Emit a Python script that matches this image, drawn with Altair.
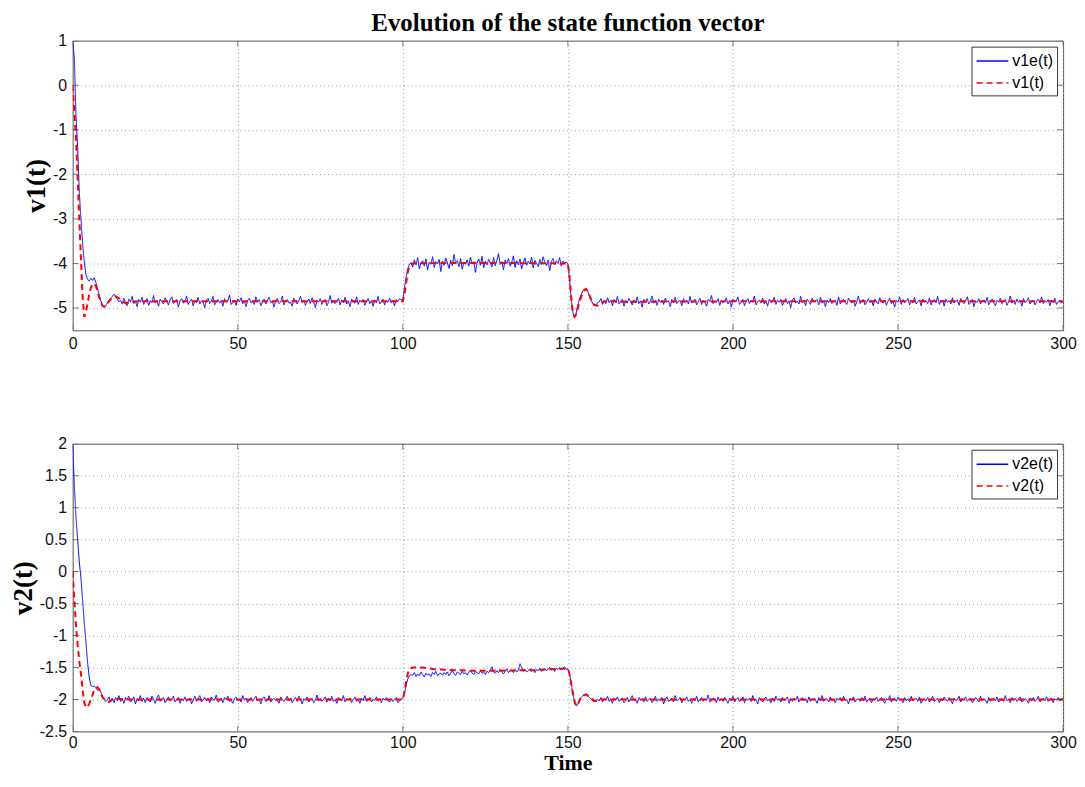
import altair as alt
import pandas as pd

T_STEP = 0.5  # sampling interval of the estimated signals

# ---------------- v1e(t): estimated signal, top panel ----------------
v1e_start = [1.0, 0.6, -0.7, -1.4, -2.4, -3.0, -3.55, -3.95, -4.25, -4.35,
             -4.4, -4.33, -4.38, -4.32, -4.42, -4.55, -4.7, -4.84, -4.93, -4.99,
             -4.95, -4.88, -4.84, -4.78, -4.74, -4.69, -4.73, -4.8, -4.86]
v1e_base_a = [
    -4.83, -4.91, -4.78, -4.88, -4.95, -4.80, -4.86, -4.74, -4.90, -4.84,
    -4.97, -4.81, -4.87, -4.76, -4.92, -4.85, -4.79, -4.94, -4.83, -4.88,
    -4.72, -4.89, -4.84, -4.96, -4.80, -4.86, -4.91, -4.77, -4.85, -4.93,
    -4.82, -4.75, -4.90, -4.87, -4.81, -4.98, -4.84, -4.79, -4.89, -4.86,
    -4.73, -4.92, -4.85, -4.80, -4.95, -4.83, -4.88, -4.76, -4.91, -4.84,
    -4.87, -4.99, -4.82, -4.78, -4.90, -4.85, -4.74, -4.93, -4.86, -4.81,
    -4.89, -4.83, -4.96, -4.79, -4.87, -4.84, -4.71, -4.92, -4.88, -4.82,
    -4.94, -4.80, -4.86, -4.77, -4.90, -4.85, -4.97, -4.83, -4.78, -4.89,
    -4.84, -4.92, -4.75, -4.87, -4.81, -4.95, -4.86, -4.80, -4.91, -4.83,
    -4.76, -4.88, -4.85, -4.98, -4.82, -4.79, -4.90, -4.86, -4.73, -4.93,
    -4.84, -4.81, -4.89, -4.87, -4.96, -4.78, -4.85, -4.91, -4.83, -4.74,
    -4.88, -4.82, -4.94, -4.86, -4.80, -4.90, -4.77, -4.85, -4.99, -4.83,
    -4.87, -4.79, -4.92, -4.84, -4.81, -4.95, -4.86, -4.72, -4.89, -4.83,
    -4.90, -4.85, -4.78, -4.93, -4.82, -4.88, -4.76, -4.91, -4.84, -4.97,
    -4.80, -4.86, -4.89, -4.75, -4.92, -4.83, -4.87, -4.81, -4.94, -4.85,
    -4.79, -4.90, -4.84, -4.96, -4.82, -4.88, -4.74, -4.91, -4.86, -4.80,
    -4.93, -4.84, -4.87, -4.78, -4.89, -4.83, -4.95, -4.81, -4.86, -4.79,
    -4.82]
v1e_rise = [-4.8, -4.55, -4.3, -4.12, -4.02]
v1e_plateau = [
    -3.98, -4.08, -3.92, -4.03, -3.87, -4.12, -3.99, -3.94, -4.06, -3.90,
    -4.15, -3.97, -4.02, -3.85, -4.09, -3.96, -4.01, -3.91, -4.18, -3.95,
    -4.04, -3.88, -3.99, -4.11, -3.93, -4.05, -3.80, -4.00, -3.94, -4.07,
    -3.89, -4.13, -3.97, -4.02, -3.92, -4.06, -3.86, -4.01, -3.96, -4.20,
    -3.98, -3.90, -4.04, -3.84, -4.10, -3.95, -4.03, -3.91, -3.99, -4.08,
    -3.87, -4.05, -3.93, -3.78, -4.02, -3.96, -4.14, -3.92, -4.00, -3.89,
    -4.06, -3.97, -3.83, -4.09, -3.94, -4.03, -3.90, -4.12, -3.98, -3.88,
    -4.04, -3.95, -4.01, -3.86, -4.10, -3.93, -3.99, -4.07, -3.91, -4.02,
    -3.85, -3.97, -4.05, -3.92, -4.16, -3.96, -3.89, -4.03, -3.94, -4.00,
    -3.87, -4.06, -3.95, -3.99, -3.97]
v1e_fall = [-4.0, -4.35, -4.8, -5.1, -5.2, -5.12, -4.95, -4.8, -4.7, -4.62,
            -4.58, -4.57, -4.62, -4.72, -4.82, -4.9, -4.95, -4.93, -4.88]
v1e_base_c = [
    -4.86, -4.79, -4.92, -4.84, -4.90, -4.77, -4.88, -4.83, -4.95, -4.81,
    -4.87, -4.74, -4.91, -4.85, -4.80, -4.96, -4.83, -4.89, -4.78, -4.86,
    -4.93, -4.82, -4.88, -4.75, -4.90, -4.84, -4.98, -4.81, -4.86, -4.79,
    -4.91, -4.85, -4.73, -4.89, -4.83, -4.94, -4.80, -4.87, -4.82, -4.92,
    -4.78, -4.86, -4.84, -4.97, -4.81, -4.88, -4.76, -4.90, -4.85, -4.83,
    -4.95, -4.79, -4.87, -4.82, -4.91, -4.74, -4.89, -4.84, -4.80, -4.93,
    -4.86, -4.78, -4.92, -4.83, -4.88, -4.96, -4.81, -4.85, -4.72, -4.90,
    -4.84, -4.87, -4.79, -4.94, -4.82, -4.89, -4.85, -4.77, -4.91, -4.83,
    -4.98, -4.80, -4.86, -4.84, -4.75, -4.92, -4.88, -4.81, -4.95, -4.85,
    -4.79, -4.90, -4.83, -4.87, -4.73, -4.93, -4.86, -4.82, -4.89, -4.78,
    -4.91, -4.84, -4.96, -4.80, -4.88, -4.85, -4.76, -4.92, -4.83, -4.87,
    -4.81, -4.94, -4.86, -4.79, -4.90, -4.84, -4.99, -4.82, -4.77, -4.89,
    -4.85, -4.91, -4.74, -4.88, -4.83, -4.95, -4.80, -4.86, -4.92, -4.78,
    -4.87, -4.84, -4.81, -4.93, -4.76, -4.89, -4.85, -4.97, -4.82, -4.88,
    -4.79, -4.90, -4.86, -4.83, -4.94, -4.75, -4.91, -4.84, -4.80, -4.87,
    -4.92, -4.78, -4.85, -4.89, -4.82, -4.96, -4.86, -4.73, -4.90, -4.84,
    -4.81, -4.93, -4.87, -4.79, -4.88, -4.83, -4.95, -4.80, -4.86, -4.91,
    -4.77, -4.85, -4.89, -4.82, -4.94, -4.84, -4.78, -4.90, -4.86, -4.98,
    -4.83, -4.87, -4.75, -4.92, -4.81, -4.88, -4.85, -4.79, -4.93, -4.84,
    -4.89, -4.76, -4.91, -4.86, -4.82, -4.95, -4.80, -4.87, -4.84, -4.90,
    -4.78, -4.93, -4.85, -4.81, -4.88, -4.74, -4.92, -4.86, -4.83, -4.96,
    -4.80, -4.87, -4.84, -4.91, -4.77, -4.89, -4.85, -4.82, -4.94, -4.79,
    -4.86, -4.90, -4.83, -4.75, -4.92, -4.88, -4.81, -4.97, -4.84, -4.87,
    -4.79, -4.91, -4.85, -4.82, -4.89, -4.76, -4.93, -4.86, -4.80, -4.88,
    -4.95, -4.83, -4.87, -4.78, -4.90, -4.84, -4.81, -4.94, -4.86, -4.73,
    -4.89, -4.85, -4.92, -4.80, -4.87, -4.83, -4.96, -4.79, -4.88, -4.84,
    -4.77, -4.91, -4.86, -4.82, -4.93, -4.85, -4.80, -4.89, -4.75, -4.90,
    -4.84, -4.87, -4.81, -4.95, -4.83, -4.88, -4.78, -4.92, -4.86, -4.82,
    -4.89, -4.85]

# ---------------- v1(t): reference signal, top panel ----------------
v1_t = [0, 0.5, 1, 1.5, 2, 2.5, 3, 3.5, 4, 4.5,
        5, 5.5, 6, 6.5, 7, 7.5, 8, 8.5, 9, 9.5,
        10, 11, 12, 13, 14, 15, 16, 17, 18, 20,
        40, 60, 80, 100, 100.5, 101, 101.5, 102, 103, 110,
        130, 150, 150.5, 151, 151.5, 152, 152.5, 153, 154, 155,
        155.5, 156, 157, 158, 159, 160, 161, 163, 165, 200,
        250, 300]
v1_v = [0, -0.6, -1.2, -2.1, -3.0, -3.9, -4.75, -5.2, -5.1, -4.9,
        -4.7, -4.55, -4.47, -4.45, -4.5, -4.62, -4.75, -4.87, -4.95, -4.97,
        -4.95, -4.85, -4.76, -4.74, -4.78, -4.85, -4.89, -4.88, -4.86, -4.85,
        -4.85, -4.85, -4.85, -4.85, -4.7, -4.45, -4.2, -4.05, -4.0, -3.99,
        -3.99, -4.0, -4.3, -4.75, -5.1, -5.2, -5.15, -5.0, -4.75, -4.6,
        -4.57, -4.62, -4.8, -4.93, -4.95, -4.9, -4.85, -4.84, -4.86, -4.85,
        -4.85, -4.85]

# ---------------- v2e(t): estimated signal, bottom panel ----------------
v2e_start = [2.0, 1.35, 0.85, 0.5, 0.15, -0.1, -0.45, -0.8, -1.1, -1.42,
             -1.65, -1.78, -1.80, -1.79, -1.82, -1.86, -1.84, -1.88, -1.95, -2.0,
             -2.03]
v2e_base_a = [
    -2.01, -1.96, -2.04, -1.98, -2.05, -1.97, -2.02, -1.94, -2.03, -1.99,
    -2.06, -1.97, -2.00, -1.95, -2.04, -2.01, -1.96, -2.07, -1.99, -2.02,
    -1.94, -2.03, -1.98, -2.05, -1.97, -2.01, -2.04, -1.95, -2.00, -2.06,
    -1.98, -1.93, -2.03, -2.00, -1.97, -2.05, -2.01, -1.96, -2.02, -1.99,
    -1.95, -2.04, -2.00, -1.97, -2.06, -1.99, -2.02, -1.96, -2.03, -2.00,
    -1.98, -2.07, -2.01, -1.95, -2.03, -1.99, -1.94, -2.04, -2.01, -1.97,
    -2.02, -1.98, -2.05, -1.96, -2.00, -2.01, -1.93, -2.04, -2.02, -1.98,
    -2.05, -1.97, -2.00, -1.95, -2.03, -2.01, -2.06, -1.99, -1.96, -2.02,
    -2.00, -2.04, -1.94, -2.01, -1.98, -2.05, -2.00, -1.97, -2.03, -1.99,
    -1.95, -2.02, -2.00, -2.07, -1.98, -1.96, -2.03, -2.01, -1.94, -2.04,
    -2.00, -1.98, -2.02, -2.01, -2.06, -1.96, -2.00, -2.03, -1.99, -1.95,
    -2.02, -1.98, -2.05, -2.00, -1.97, -2.03, -1.95, -2.00, -2.07, -1.99,
    -2.01, -1.96, -2.04, -2.00, -1.98, -2.05, -2.01, -1.93, -2.02, -1.99,
    -2.03, -2.00, -1.96, -2.04, -1.98, -2.02, -1.95, -2.03, -2.00, -2.06,
    -1.97, -2.01, -2.02, -1.94, -2.04, -1.99, -2.01, -1.98, -2.05, -2.00,
    -1.96, -2.03, -2.00, -2.06, -1.98, -2.02, -1.94, -2.03, -2.01, -1.97,
    -2.04, -2.00, -2.01, -1.96, -2.02, -1.99, -2.05, -1.98, -2.01, -1.97,
    -2.02, -2.04, -1.99, -2.03, -2.00, -1.97, -2.05, -2.02, -1.99]
v2e_rise = [-1.98, -1.9, -1.78, -1.68, -1.63, -1.61]
v2e_plateau = [
    -1.62, -1.58, -1.64, -1.60, -1.63, -1.57, -1.61, -1.65, -1.59, -1.62,
    -1.60, -1.64, -1.58, -1.61, -1.56, -1.63, -1.60, -1.59, -1.62, -1.58,
    -1.61, -1.57, -1.63, -1.59, -1.55, -1.60, -1.62, -1.57, -1.59, -1.61,
    -1.56, -1.60, -1.58, -1.62, -1.57, -1.54, -1.59, -1.61, -1.56, -1.58,
    -1.60, -1.55, -1.59, -1.57, -1.61, -1.56, -1.58, -1.54, -1.49, -1.57,
    -1.59, -1.55, -1.58, -1.53, -1.57, -1.60, -1.56, -1.52, -1.58, -1.55,
    -1.55, -1.58, -1.53, -1.57, -1.54, -1.44, -1.50, -1.56, -1.53, -1.57,
    -1.55, -1.52, -1.56, -1.54, -1.58, -1.53, -1.55, -1.51, -1.56, -1.54,
    -1.52, -1.55, -1.53, -1.50, -1.54, -1.52, -1.56, -1.51, -1.53, -1.50,
    -1.54, -1.51, -1.49, -1.53]
v2e_fall = [-1.52, -1.6, -1.75, -1.9, -2.03, -2.1, -2.08, -2.02, -1.97, -1.94,
            -1.93, -1.92, -1.94, -1.97, -1.99, -2.02, -2.03, -2.01, -2.0]
v2e_base_c = [
    -2.02, -1.97, -2.04, -1.99, -2.01, -1.95, -2.03, -2.00, -2.06, -1.98,
    -2.01, -1.96, -2.03, -2.00, -1.98, -2.05, -2.02, -1.97, -2.04, -1.99,
    -1.94, -2.02, -2.00, -2.06, -1.97, -2.01, -1.99, -2.04, -1.96, -2.03,
    -2.00, -1.98, -2.05, -2.01, -1.95, -2.03, -1.99, -2.02, -1.97, -2.07,
    -2.00, -1.96, -2.03, -2.01, -1.98, -2.04, -1.94, -2.02, -2.00, -1.97,
    -2.05, -1.99, -2.01, -1.96, -2.03, -2.00, -2.06, -1.98, -2.02, -1.95,
    -2.04, -2.00, -1.97, -2.03, -1.99, -2.01, -1.93, -2.04, -2.02, -1.98,
    -2.00, -2.05, -1.96, -2.02, -1.99, -2.03, -1.97, -2.01, -2.06, -1.98,
    -2.02, -1.95, -2.04, -2.00, -1.97, -2.03, -2.01, -1.96, -2.05, -1.99,
    -2.01, -1.98, -2.03, -1.94, -2.02, -2.00, -2.07, -1.97, -2.01, -2.04,
    -1.99, -1.96, -2.02, -2.00, -2.05, -1.98, -2.03, -1.95, -2.01, -1.99,
    -2.04, -1.97, -2.02, -2.00, -1.96, -2.06, -1.99, -2.03, -1.98, -2.01,
    -1.95, -2.04, -2.00, -1.97, -2.02, -1.99, -2.05, -1.96, -2.03, -2.00,
    -1.98, -2.01, -2.06, -1.97, -2.02, -1.94, -2.03, -2.00, -1.99, -2.04,
    -1.96, -2.02, -2.00, -2.05, -1.98, -2.01, -1.97, -2.03, -1.95, -2.02,
    -2.00, -2.07, -1.98, -2.01, -1.96, -2.04, -2.00, -1.99, -2.03, -1.97,
    -2.02, -1.95, -2.04, -2.00, -1.98, -2.05, -1.99, -2.01, -1.96, -2.03,
    -2.00, -1.97, -2.02, -2.06, -1.99, -2.01, -1.94, -2.04, -2.00, -1.98,
    -2.03, -1.96, -2.01, -2.00, -2.05, -1.97, -2.02, -1.99, -2.04, -1.95,
    -2.02, -2.00, -1.98, -2.03, -1.96, -2.06, -2.01, -1.99, -2.02, -1.97,
    -2.04, -2.00, -1.95, -2.03, -2.01, -1.98, -2.05, -1.99, -2.02, -1.96,
    -2.00, -2.03, -1.97, -2.01, -2.07, -1.98, -2.02, -2.00, -1.95, -2.04,
    -1.99, -2.01, -1.96, -2.03, -2.00, -1.98, -2.05, -2.02, -1.97, -2.00,
    -2.04, -1.95, -2.02, -1.99, -2.01, -2.06, -1.97, -2.03, -2.00, -1.98,
    -2.02, -1.96, -2.04, -2.01, -1.99, -2.03, -1.94, -2.02, -2.00, -2.05,
    -1.97, -2.01, -1.98, -2.03, -2.00, -1.96, -2.04, -2.02, -1.99, -2.01,
    -2.06, -1.98, -2.02, -1.97, -2.03, -2.00, -1.95, -2.04, -2.01, -1.99,
    -2.02, -1.96, -2.03, -2.00, -1.98, -2.05, -1.99, -2.01, -1.97, -2.02,
    -2.00, -1.98]

# ---------------- v2(t): reference signal, bottom panel ----------------
v2_t = [0, 0.5, 1, 1.5, 2, 2.5, 3, 3.5, 4, 4.5,
        5, 5.5, 6, 6.5, 7, 7.5, 8, 8.5, 9, 10,
        11, 12, 13, 14, 16, 40, 70, 100, 100.5, 101,
        101.5, 102, 103, 106, 110, 120, 130, 140, 148, 150,
        150.5, 151, 151.5, 152, 152.5, 153, 153.5, 154, 155, 155.5,
        156, 157, 158, 159, 160, 200, 250, 300]
v2_v = [0, -0.45, -0.85, -1.15, -1.4, -1.6, -1.85, -2.05, -2.12, -2.12,
        -2.07, -2.0, -1.93, -1.86, -1.82, -1.81, -1.84, -1.9, -1.96, -2.02,
        -2.04, -2.0, -1.98, -1.99, -2.0, -2.0, -2.0, -2.0, -1.88, -1.72,
        -1.6, -1.52, -1.5, -1.5, -1.53, -1.55, -1.55, -1.54, -1.52, -1.52,
        -1.6, -1.75, -1.9, -2.03, -2.1, -2.08, -2.02, -1.97, -1.93, -1.92,
        -1.94, -1.98, -2.02, -2.03, -2.0, -2.0, -2.0, -2.0]

# ---------------- axis ticks / labels ----------------
x_ticks = [0, 50, 100, 150, 200, 250, 300]
y1_ticks = [1, 0, -1, -2, -3, -4, -5]
y2_ticks = [2, 1.5, 1, 0.5, 0, -0.5, -1, -1.5, -2, -2.5]

v1e = v1e_start + v1e_base_a + v1e_rise + v1e_plateau + v1e_fall + v1e_base_c
v2e = v2e_start + v2e_base_a + v2e_rise + v2e_plateau + v2e_fall + v2e_base_c


def make_df(est, ref_t, ref_v, est_name, ref_name):
    t_est = [i * T_STEP for i in range(len(est))]
    a = pd.DataFrame({"t": t_est, "v": est, "series": est_name})
    b = pd.DataFrame({"t": ref_t, "v": ref_v, "series": ref_name})
    return a, b


W = 995
SERIF = "Liberation Serif"
SANS = "Liberation Sans"
TICK_COLOR = "#444"


def panel(est, ref_t, ref_v, est_name, ref_name, ydom, yticks, ytitle, h, xtitle):
    a, b = make_df(est, ref_t, ref_v, est_name, ref_name)
    if xtitle:
        xaxis = alt.Axis(title=xtitle, titlePadding=2, values=x_ticks, grid=True,
                         labelFlush=False, labelOverlap=False, labelPadding=3)
    else:
        xaxis = alt.Axis(title=None, values=x_ticks, grid=True,
                         labelFlush=False, labelOverlap=False, labelPadding=5)
    x = alt.X("t:Q", scale=alt.Scale(domain=[0, 300], nice=False, zero=False), axis=xaxis)
    y = alt.Y("v:Q", scale=alt.Scale(domain=ydom, nice=False, zero=False),
              axis=alt.Axis(title=ytitle, values=yticks, grid=True, labelOverlap=False,
                            labelExpr="'' + datum.value", titlePadding=2, labelPadding=6))
    legend = alt.Legend(orient="top-right", offset=6, fillColor="white",
                        strokeColor="#333", padding=4, rowPadding=3,
                        labelFont=SANS, labelFontSize=16, labelColor="black",
                        symbolType="M-1,0H2.4", symbolSize=350, symbolStrokeWidth=1.5,
                        labelOffset=16)
    color = alt.Color("series:N", title=None, legend=legend,
                      scale=alt.Scale(domain=[est_name, ref_name], range=["#0000ff", "#ff0000"]))
    dash = alt.StrokeDash("series:N", title=None, legend=legend,
                          scale=alt.Scale(domain=[est_name, ref_name], range=[[1, 0], [6, 4]]))
    l1 = alt.Chart(a).mark_line(strokeWidth=1, clip=True).encode(x=x, y=y, color=color, strokeDash=dash)
    l2 = alt.Chart(b).mark_line(strokeWidth=2, clip=True).encode(x=x, y=y, color=color, strokeDash=dash)

    # MATLAB-style inward tick marks (half of each tick is clipped by the frame)
    xt = pd.DataFrame({"t": x_ticks})
    yt = pd.DataFrame({"v": yticks})
    tick_kw = dict(size=12, thickness=1, color=TICK_COLOR, clip=True)
    xt_bottom = alt.Chart(xt).mark_tick(**tick_kw).encode(x=x, y=alt.value(h))
    xt_top = alt.Chart(xt).mark_tick(**tick_kw).encode(x=x, y=alt.value(0))
    yt_left = alt.Chart(yt).mark_tick(**tick_kw).encode(y=y, x=alt.value(0))
    yt_right = alt.Chart(yt).mark_tick(**tick_kw).encode(y=y, x=alt.value(W))
    return alt.layer(l1, l2, xt_bottom, xt_top, yt_left, yt_right).properties(width=W, height=h)


top = panel(v1e, v1_t, v1_v, "v1e(t)", "v1(t)", [-5.5, 1], y1_ticks, "v1(t)", 291, None).properties(
    title=alt.TitleParams("Evolution of the state function vector", font=SERIF, fontSize=25,
                          fontWeight="bold", color="black", anchor="middle", frame="group", offset=-3))
bottom = panel(v2e, v2_t, v2_v, "v2e(t)", "v2(t)", [-2.5, 2], y2_ticks, "v2(t)", 289, "Time")

chart = alt.vconcat(top, bottom, spacing=83).resolve_scale(
    color="independent", strokeDash="independent").properties(
    padding={"left": 0, "top": 0, "right": 0, "bottom": 0}
).configure_view(stroke="#555", strokeWidth=1).configure_axis(
    labelFont=SANS, labelFontSize=16, labelColor="#111", gridColor="#999",
    gridDash=[1, 3], gridWidth=1, domain=False, ticks=False,
    titleFont=SERIF, titleFontWeight="bold", titleFontSize=27, titleColor="black"
).configure_axisX(titleFontSize=22)

chart.save("out.html", embed_options={"renderer": "svg", "actions": False})
